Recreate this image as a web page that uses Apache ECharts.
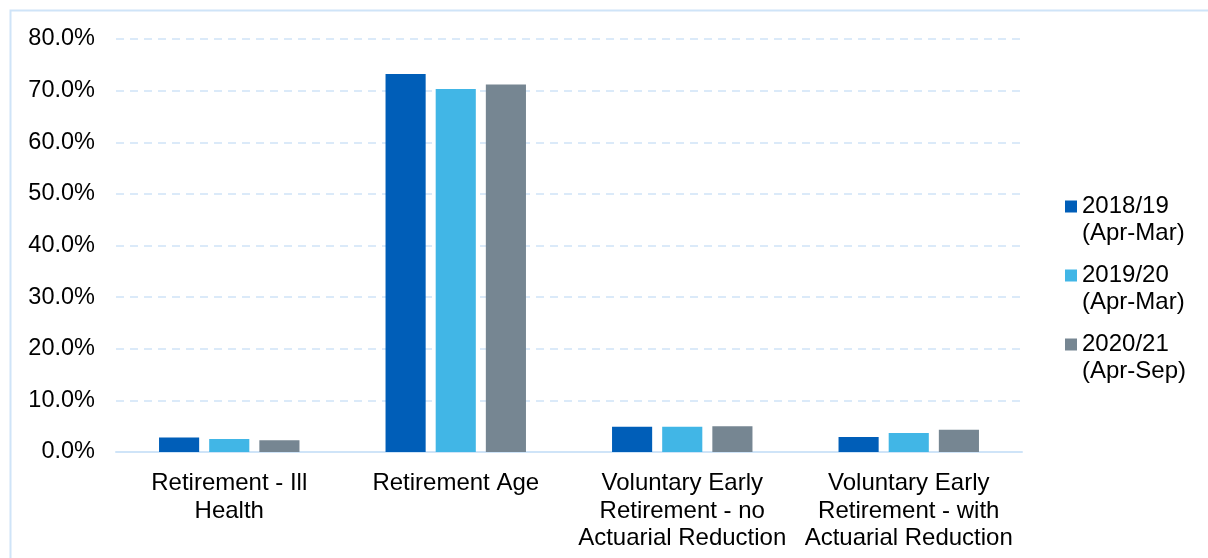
<!DOCTYPE html>
<html>
<head>
<meta charset="utf-8">
<script src="https://cdn.jsdelivr.net/npm/echarts@6/dist/echarts.min.js"></script>
<style>
  html, body { margin: 0; padding: 0; background: #fff; }
  #chart { width: 1208px; height: 558px; }
</style>
</head>
<body>
<div id="chart"></div>
<script>
// Retirement reasons, share of retirements per period (%)
const categories = [
  'Retirement - Ill\nHealth',
  'Retirement Age',
  'Voluntary Early\nRetirement - no\nActuarial Reduction',
  'Voluntary Early\nRetirement - with\nActuarial Reduction'
];
const seriesNames = ['2018/19\n(Apr-Mar)', '2019/20\n(Apr-Mar)', '2020/21\n(Apr-Sep)'];
const values2018 = [2.8, 73.2, 4.9, 2.9];
const values2019 = [2.5, 70.3, 4.9, 3.7];
const values2020 = [2.3, 71.2, 5.0, 4.3];
const colors = ['#005EB8', '#41B6E6', '#768692'];

const FONT = "'Liberation Sans', Arial, sans-serif";
const chart = echarts.init(document.getElementById('chart'), null, { renderer: 'canvas' });

const seriesData = [values2018, values2019, values2020];

chart.setOption({
  animation: false,
  color: colors,
  textStyle: { fontFamily: FONT, color: '#000' },
  graphic: [{
    type: 'rect',
    shape: { x: 10.5, y: 10.5, width: 1400, height: 800 },
    style: { fill: 'none', stroke: '#CFE4F8', lineWidth: 2 },
    silent: true
  }],
  grid: { left: 116, right: 186, top: 39, bottom: 106, containLabel: false },
  legend: {
    orient: 'vertical',
    left: 1065,
    top: 166,
    padding: 0,
    itemWidth: 12,
    itemHeight: 12,
    itemGap: -12,
    icon: 'rect',
    data: seriesNames,
    // a blank leading line keeps the icon level with the first text line
    formatter: name => ' \n' + name,
    textStyle: {
      fontFamily: FONT, fontSize: 24, color: '#000', lineHeight: 27
    }
  },
  xAxis: {
    type: 'category',
    data: categories,
    axisLine: { lineStyle: { color: '#CFE4F8', width: 2 } },
    axisTick: { show: false },
    axisLabel: {
      interval: 0, margin: 18, fontFamily: FONT, fontSize: 24,
      lineHeight: 27.5, color: '#000'
    }
  },
  yAxis: {
    type: 'value',
    min: 0, max: 80, interval: 10,
    axisLine: { show: false },
    axisTick: { show: false },
    axisLabel: {
      margin: 21, fontFamily: FONT, fontSize: 23.5, color: '#000',
      formatter: v => v.toFixed(1) + '%'
    },
    splitLine: { lineStyle: { color: '#CFE4F8', width: 1.5, type: [8, 6] } }
  },
  series: seriesNames.map((name, i) => ({
    name,
    type: 'bar',
    data: seriesData[i],
    barGap: '25%',
    barCategoryGap: '38%',
    itemStyle: { color: colors[i] }
  }))
});
</script>
</body>
</html>
